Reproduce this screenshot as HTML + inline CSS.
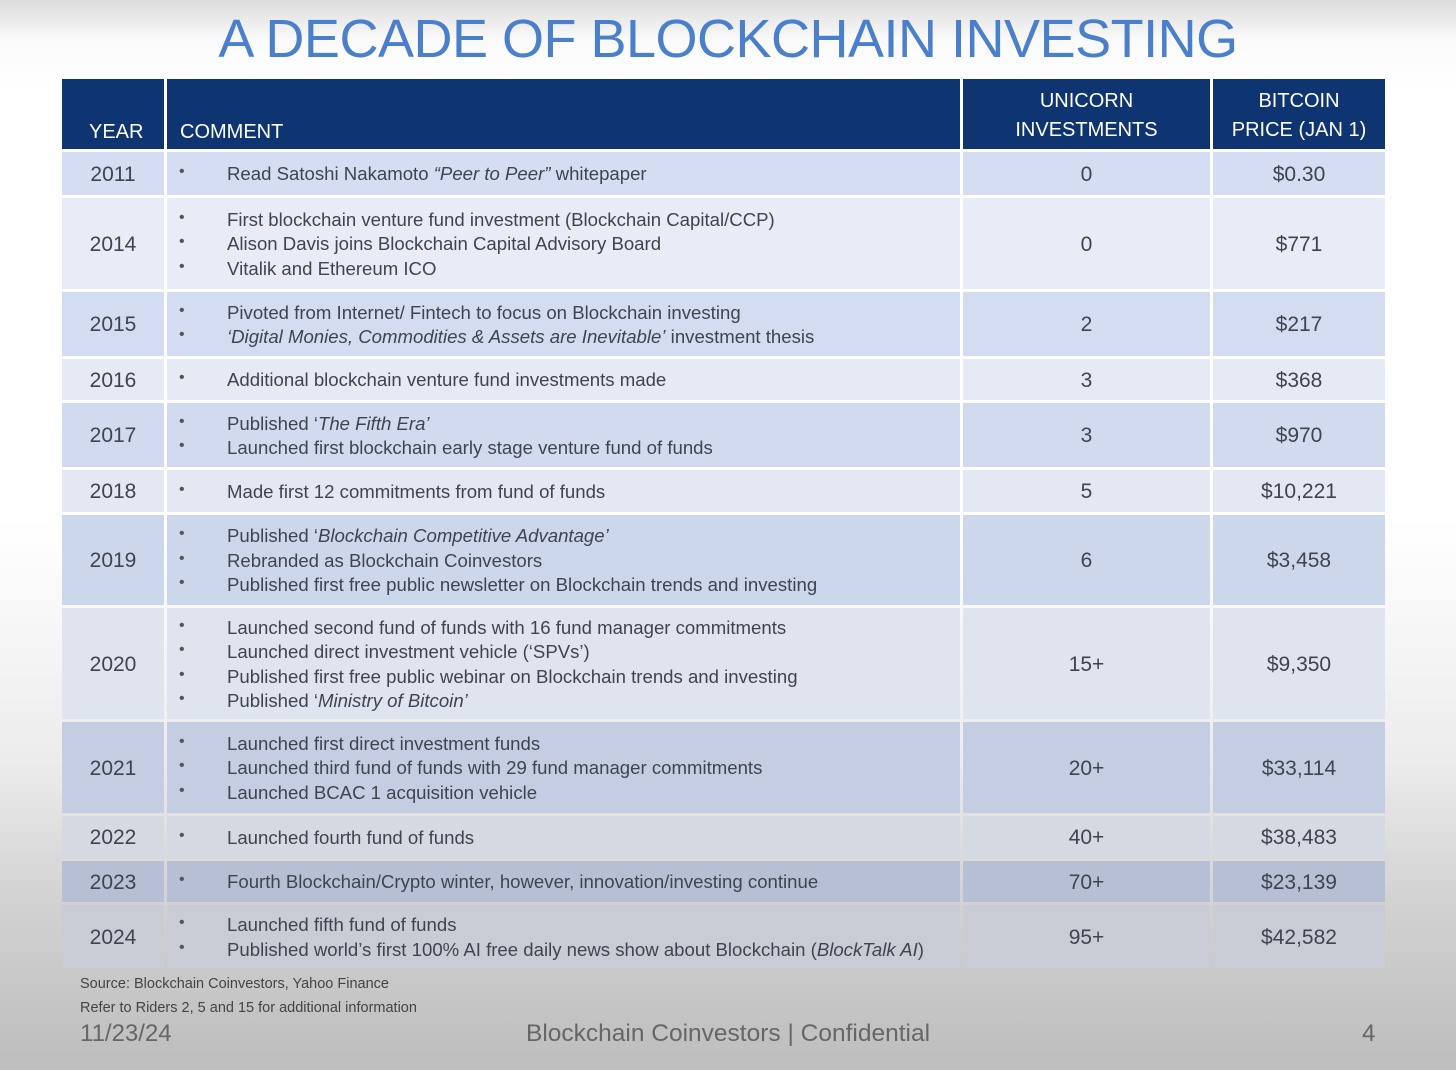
<!DOCTYPE html>
<html><head><meta charset="utf-8"><style>
body{margin:0;width:1456px;height:1070px;overflow:hidden;position:relative;font-family:"Liberation Sans",sans-serif;
background:linear-gradient(180deg,#dcdcdc 0px,#fafafa 40px,#ffffff 90px,#ffffff 520px,#ececec 760px,#d2d2d2 900px,#bdbdbd 1070px);}
.a{position:absolute;}
#title{left:0;width:1456px;top:8px;text-align:center;font-size:54px;color:#4a7fcc;letter-spacing:-0.5px;}
.hd{background:#0e3472;color:#fff;font-size:20px;}
.cell{position:absolute;color:#3f4450;}
.c{text-align:center;font-size:21px;}
.ln{position:absolute;font-size:18.6px;white-space:nowrap;color:#3f4450;}
.bl{position:absolute;font-size:16px;color:#555;}
</style></head><body>
<div class="a" id="title">A DECADE OF BLOCKCHAIN INVESTING</div>
<div class="a hd" style="left:62px;top:79px;width:102px;height:70px"><span style="position:absolute;left:27px;top:42px">YEAR</span></div>
<div class="a hd" style="left:167px;top:79px;width:793px;height:70px"><span style="position:absolute;left:13px;top:42px">COMMENT</span></div>
<div class="a hd" style="left:963px;top:79px;width:247px;height:70px;text-align:center;line-height:29px;padding-top:8px;box-sizing:border-box">UNICORN<br>INVESTMENTS</div>
<div class="a hd" style="left:1213px;top:79px;width:172px;height:70px;text-align:center;line-height:29px;padding-top:8px;box-sizing:border-box">BITCOIN<br>PRICE (JAN 1)</div>
<div id="rows"></div>
<div class="a" style="left:80px;top:976px;font-size:14.5px;color:#444">Source: Blockchain Coinvestors, Yahoo Finance</div>
<div class="a" style="left:80px;top:1000px;font-size:14.5px;color:#444">Refer to Riders 2, 5 and 15 for additional information</div>
<div class="a" style="left:80px;top:1020px;font-size:24px;color:#666">11/23/24</div>
<div class="a" style="left:526px;top:1020px;font-size:24.5px;color:#666">Blockchain Coinvestors | Confidential</div>
<div class="a" style="left:1362px;top:1020px;font-size:24px;color:#666">4</div>
<script>
const years=["2011","2014","2015","2016","2017","2018","2019","2020","2021","2022","2023","2024"];
const unicorns=["0","0","2","3","3","5","6","15+","20+","40+","70+","95+"];
const prices=["$0.30","$771","$217","$368","$970","$10,221","$3,458","$9,350","$33,114","$38,483","$23,139","$42,582"];
const comments=[
["Read Satoshi Nakamoto <i>“Peer to Peer”</i> whitepaper"],
["First blockchain venture fund investment (Blockchain Capital/CCP)","Alison Davis joins Blockchain Capital Advisory Board","Vitalik and Ethereum ICO"],
["Pivoted from Internet/ Fintech to focus on Blockchain investing","<i>‘Digital Monies, Commodities &amp; Assets are Inevitable’</i> investment thesis"],
["Additional blockchain venture fund investments made"],
["Published ‘<i>The Fifth Era’</i>","Launched first blockchain early stage venture fund of funds"],
["Made first 12 commitments from fund of funds"],
["Published ‘<i>Blockchain Competitive Advantage’</i>","Rebranded as Blockchain Coinvestors","Published first free public newsletter on Blockchain trends and investing"],
["Launched second fund of funds with 16 fund manager commitments","Launched direct investment vehicle (‘SPVs’)","Published first free public webinar on Blockchain trends and investing","Published ‘<i>Ministry of Bitcoin’</i>"],
["Launched first direct investment funds","Launched third fund of funds with 29 fund manager commitments","Launched BCAC 1 acquisition vehicle"],
["Launched fourth fund of funds"],
["Fourth Blockchain/Crypto winter, however, innovation/investing continue"],
["Launched fifth fund of funds","Published world’s first 100% AI free daily news show about Blockchain (<i>BlockTalk AI</i>)"]];
const tops=[152,198,292,359,403,470,515,608,722,816,861,905];
const bots=[195,289,356,400,467,512,605,719,813,858,902,968];
const colors=["#d4ddf1","#e7ecf6","#d3dcf0","#e5eaf4","#d1daee","#e3e8f2","#cdd7ec","#dfe4ee","#c4cde2","#d5d9e2","#b6bfd3","#c9ccd5"];
const root=document.getElementById('rows');
const cols=[[62,102],[167,793],[963,247],[1213,172]];
years.forEach((y,i)=>{
  const t=tops[i],h=bots[i]-tops[i],mid=t+h/2;
  const row=document.createElement('div');
  
  
  root.appendChild(row);
  cols.forEach((c,j)=>{
    const d=document.createElement('div');
    d.className='cell'+(j!==1?' c':'');
    d.style.cssText=`left:${c[0]}px;top:${t}px;width:${c[1]}px;height:${h}px;background:${colors[i]};line-height:${h+2}px;`;
    if(j===0){d.textContent=y;}
    if(j===2){d.textContent=unicorns[i];}
    if(j===3){d.textContent=prices[i];}
    if(j===1){}
    
    row.appendChild(d);
  });
  const n=comments[i].length,lh=24.5,start=mid-n*lh/2;
  comments[i].forEach((s,k)=>{
    const b=document.createElement('div');
    b.className='bl';b.textContent='•';
    b.style.cssText=`left:179px;top:${start+k*lh+2}px;`;
    
    
    row.appendChild(b);
    const l=document.createElement('div');
    l.className='ln';l.innerHTML=s;
    l.style.cssText=`left:227px;top:${start+k*lh+2}px;`;
    
    
    row.appendChild(l);
  });
});
</script>
</body></html>
